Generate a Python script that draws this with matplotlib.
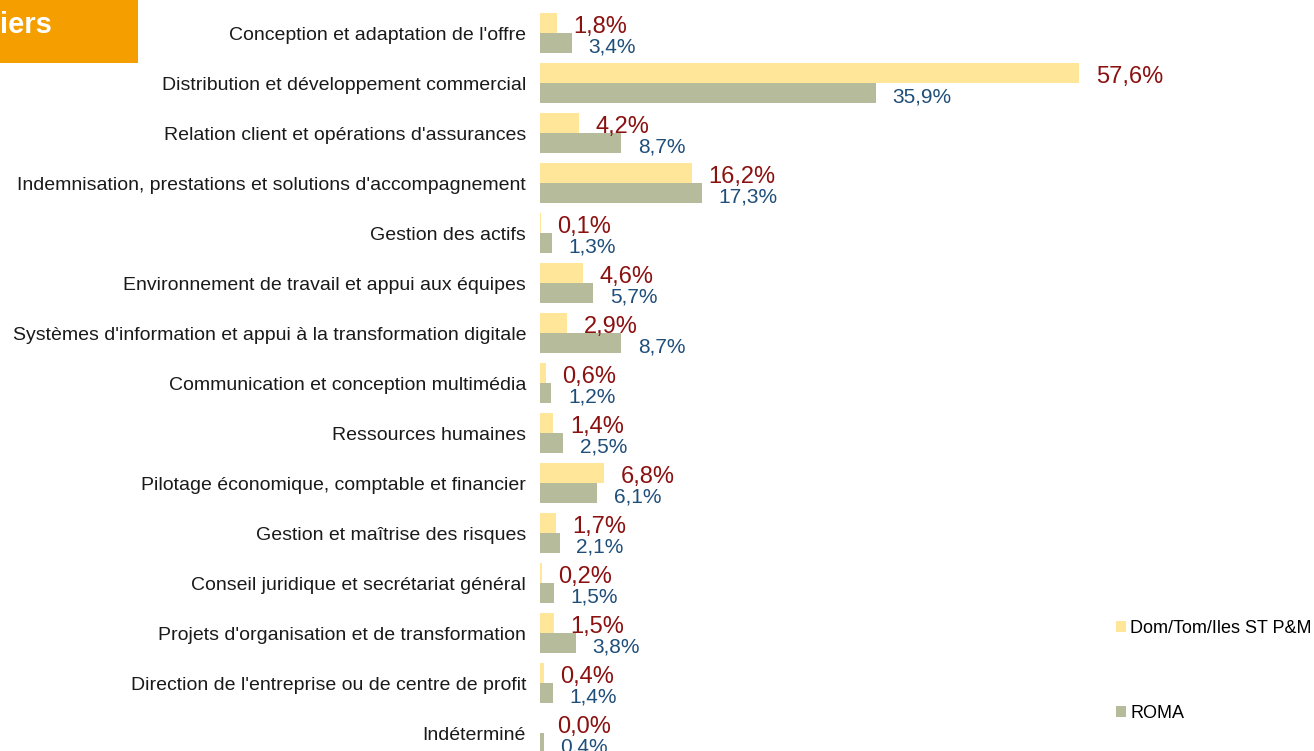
import matplotlib
matplotlib.use("Agg")
import matplotlib.pyplot as plt
from matplotlib.patches import Rectangle
import numpy as np

plt.rcParams['font.family'] = ['Liberation Sans', 'DejaVu Sans']

categories = [
    "Conception et adaptation de l'offre",
    "Distribution et développement commercial",
    "Relation client et opérations d'assurances",
    "Indemnisation, prestations et solutions d'accompagnement",
    "Gestion des actifs",
    "Environnement de travail et appui aux équipes",
    "Systèmes d'information et appui à la transformation digitale",
    "Communication et conception multimédia",
    "Ressources humaines",
    "Pilotage économique, comptable et financier",
    "Gestion et maîtrise des risques",
    "Conseil juridique et secrétariat général",
    "Projets d'organisation et de transformation",
    "Direction de l'entreprise ou de centre de profit",
    "Indéterminé",
]
dom_values = [1.8, 57.6, 4.2, 16.2, 0.1, 4.6, 2.9, 0.6, 1.4, 6.8, 1.7, 0.2, 1.5, 0.4, 0.0]
roma_values = [3.4, 35.9, 8.7, 17.3, 1.3, 5.7, 8.7, 1.2, 2.5, 6.1, 2.1, 1.5, 3.8, 1.4, 0.4]
series_names = ["Dom/Tom/Iles ST P&M", "ROMA"]
title_text = "iers"

W, H = 1314, 751
fig = plt.figure(figsize=(W / 100, H / 100), dpi=100)

ax_left = 540 / W
ax_w = (W - 540) / W
ax_top = 1 - 8 / H
ax_bottom = 1 - 758 / H
ax = fig.add_axes([ax_left, ax_bottom, ax_w, ax_top - ax_bottom])

y = np.arange(len(categories))
bh = 0.39
c_dom = "#FFE699"
c_roma = "#B6BC9B"
b1 = ax.barh(y - 0.2, dom_values, height=bh, color=c_dom, label=series_names[0])
b2 = ax.barh(y + 0.2, roma_values, height=bh, color=c_roma, label=series_names[1])

ax.set_xlim(0, (W - 540) / 9.36)
ax.set_ylim(len(categories) - 0.5, -0.5)

def fmt(v):
    return f"{v:.1f}%".replace(".", ",")

for i, (d, r) in enumerate(zip(dom_values, roma_values)):
    ax.annotate(fmt(d), (d, i + 0.0), xytext=(12, 0), textcoords="offset points",
                ha="left", va="baseline", fontsize=17, color="#8B1010")
    ax.annotate(fmt(r), (r, i + 0.39), xytext=(12, 0), textcoords="offset points",
                ha="left", va="baseline", fontsize=15, color="#1F4E79")

ax.set_yticks(y)
ax.set_yticklabels(categories, fontsize=14, color="#1a1a1a")
ax.tick_params(axis="y", length=0, pad=10)
ax.set_xticks([])
for s in ax.spines.values():
    s.set_visible(False)

fig.legend(handles=[b1, b2], labels=series_names, loc="upper left",
           bbox_to_anchor=(1116 / W, 1 - 620 / H), frameon=False, fontsize=13,
           handlelength=0.55, handleheight=0.55, handletextpad=0.25,
           labelspacing=3.75, borderpad=0, borderaxespad=0)

fig.patches.append(Rectangle((0, 1 - 63 / H), 138 / W, 63 / H, transform=fig.transFigure,
                             facecolor="#F59E00", edgecolor="none", zorder=0))
fig.text(52 / W, 1 - 33 / H, title_text, ha="right", va="baseline", fontsize=21,
         fontweight="bold", color="white")

fig.savefig("out.png", dpi=100)
